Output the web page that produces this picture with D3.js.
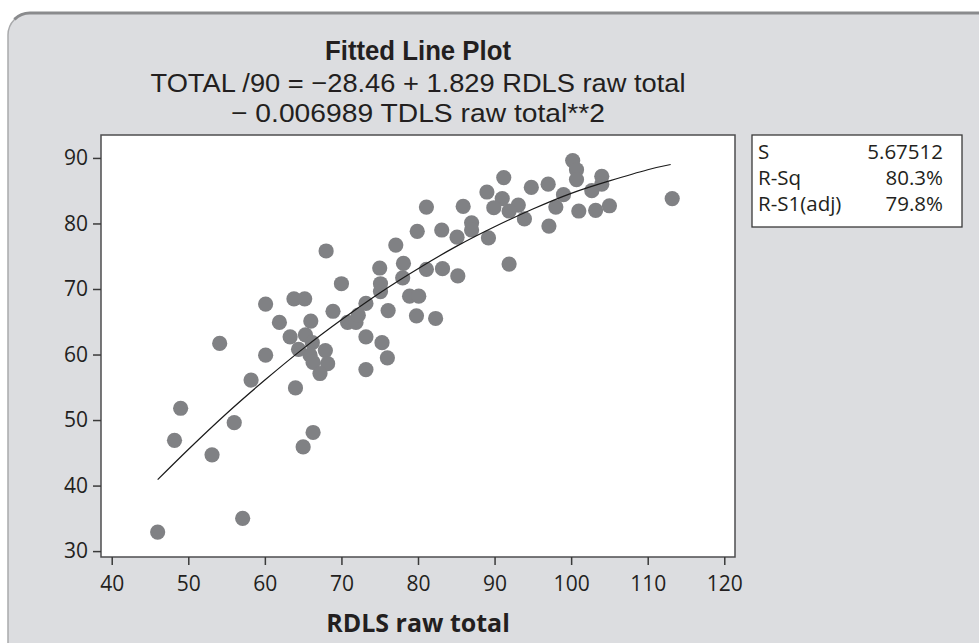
<!DOCTYPE html>
<html>
<head>
<meta charset="utf-8">
<script src="https://cdn.jsdelivr.net/npm/d3@7"></script>
<style>
  body { margin: 0; background: #fff; }
  svg { display: block; }
  text { fill: #231f20; font-family: "Open Sans", "Noto Sans", sans-serif; }
</style>
</head>
<body>
<svg></svg>
<script>
// RDLS raw total (x) and TOTAL /90 (y)
const rdls = [68.0, 77.1, 75.0, 78.1, 70.0, 75.1, 75.1, 78.0, 60.1, 63.8,
  65.2, 68.9, 73.2, 76.1, 78.9, 80.1, 79.8, 61.9, 66.0, 70.8,
  71.9, 72.2, 63.3, 65.3, 66.2, 73.2, 75.3, 54.1, 64.4, 67.9,
  60.1, 65.9, 76.0, 66.3, 68.2, 67.2, 73.2, 58.2, 64.0, 49.0,
  56.0, 66.3, 48.2, 65.0, 53.1, 57.1, 46.0, 100.2, 100.7, 100.7,
  91.2, 104.0, 104.0, 102.7, 97.0, 94.8, 89.0, 99.0, 91.0, 89.9,
  93.1, 91.9, 98.0, 101.0, 103.2, 105.0, 113.2, 81.1, 85.9, 93.9,
  97.1, 87.0, 87.0, 79.9, 83.1, 85.1, 89.2, 81.1, 83.2, 85.2,
  91.9, 82.3];
const total = [75.8, 76.7, 73.2, 73.9, 70.8, 70.8, 69.6, 71.7, 67.7, 68.5,
  68.5, 66.6, 67.8, 66.7, 68.9, 68.9, 65.9, 64.9, 65.1, 64.9,
  64.9, 66.0, 62.7, 63.0, 61.8, 62.7, 61.8, 61.7, 60.8, 60.6,
  59.9, 59.9, 59.5, 58.8, 58.6, 57.1, 57.7, 56.1, 54.9, 51.8,
  49.6, 48.1, 46.9, 45.9, 44.7, 35.0, 32.9, 89.6, 88.2, 86.7,
  87.0, 87.2, 86.0, 85.0, 86.0, 85.5, 84.8, 84.4, 83.8, 82.4,
  82.8, 81.9, 82.5, 81.9, 82.0, 82.7, 83.8, 82.5, 82.6, 80.7,
  79.6, 80.1, 79.0, 78.8, 79.0, 77.9, 77.8, 73.0, 73.1, 72.0,
  73.8, 65.5];

// fitted curve
const fitX = [46, 50, 55, 60, 65, 70, 75, 80, 85, 90, 95, 100, 105, 110, 113];
const fitY = [40.9, 45.5, 51.0, 56.1, 60.9, 65.3, 69.4, 73.1, 76.5, 79.5, 82.2, 84.6, 86.5, 88.2, 89.0];

const xTicks = [40, 50, 60, 70, 80, 90, 100, 110, 120];
const yTicks = [30, 40, 50, 60, 70, 80, 90];

const titleLines = [
  "Fitted Line Plot",
  "TOTAL /90 = \u221228.46 + 1.829 RDLS raw total",
  "\u2212 0.006989 TDLS raw total**2"
];
const xLabel = "RDLS raw total";
const statLabels = ["S", "R-Sq", "R-S1(adj)"];
const statValues = ["5.67512", "80.3%", "79.8%"];

const width = 979;
const height = 643;

const svg = d3.select("svg")
  .attr("width", width)
  .attr("height", height);

// panel
svg.append("rect")
  .attr("x", 8)
  .attr("y", 13)
  .attr("width", 1000)
  .attr("height", 660)
  .attr("rx", 22)
  .attr("fill", "#dcdde0")
  .attr("stroke", "#a9aaac")
  .attr("stroke-width", 1.5);

svg.append("path")
  .attr("d", "M14.4,19.4 A22,22 0 0 1 30,13 L979,13")
  .attr("fill", "none")
  .attr("stroke", "#8a8b8d")
  .attr("stroke-width", 3);

const frame = {left: 101, right: 735, top: 135, bottom: 557};

const x = d3.scaleLinear()
  .domain([38.6, 121.4])
  .range([frame.left, frame.right]);

const y = d3.scaleLinear()
  .domain([29.1, 93.5])
  .range([frame.bottom, frame.top]);

// titles (narrow face, squeezed to the widths seen in the reference)
const titleY = [60, 92, 122];
const titleW = [186, 535, 374];

svg.selectAll(".title")
  .data(titleLines)
  .join("text")
  .attr("class", "title")
  .attr("x", 418)
  .attr("y", (d, i) => titleY[i])
  .attr("text-anchor", "middle")
  .style("font-family", "\"Liberation Sans\", Arial, sans-serif")
  .attr("font-size", (d, i) => i === 0 ? 27 : 26)
  .attr("font-weight", (d, i) => i === 0 ? 700 : 400)
  .attr("textLength", (d, i) => titleW[i])
  .attr("lengthAdjust", "spacingAndGlyphs")
  .text(d => d);

// plot area
svg.append("rect")
  .attr("x", frame.left)
  .attr("y", frame.top)
  .attr("width", frame.right - frame.left)
  .attr("height", frame.bottom - frame.top)
  .attr("fill", "#fff");

const points = rdls.map((v, i) => ({x: v, y: total[i]}));

svg.append("g")
  .selectAll("circle")
  .data(points)
  .join("circle")
  .attr("cx", d => x(d.x))
  .attr("cy", d => y(d.y))
  .attr("r", 7.6)
  .attr("fill", "#808184");

const line = d3.line()
  .x(d => x(d[0]))
  .y(d => y(d[1]))
  .curve(d3.curveNatural);

svg.append("path")
  .datum(fitX.map((v, i) => [v, fitY[i]]))
  .attr("d", line)
  .attr("fill", "none")
  .attr("stroke", "#1a1a1a")
  .attr("stroke-width", 1.2);

svg.append("rect")
  .attr("x", frame.left)
  .attr("y", frame.top)
  .attr("width", frame.right - frame.left)
  .attr("height", frame.bottom - frame.top)
  .attr("fill", "none")
  .attr("stroke", "#4d4d4f")
  .attr("stroke-width", 1.5);

// axes
const xAxis = svg.append("g")
  .attr("transform", `translate(0,${frame.bottom})`)
  .call(d3.axisBottom(x).tickValues(xTicks).tickSize(8).tickSizeOuter(0).tickPadding(11));

const yAxis = svg.append("g")
  .attr("transform", `translate(${frame.left},0)`)
  .call(d3.axisLeft(y).tickValues(yTicks).tickSize(8).tickSizeOuter(0).tickPadding(5));

[xAxis, yAxis].forEach(g => {
  g.select(".domain").remove();
  g.selectAll(".tick line")
    .attr("stroke", "#3a3a3a")
    .attr("stroke-width", 1.5);
  g.selectAll(".tick text")
    .attr("fill", "#231f20")
    .attr("font-family", "\"Open Sans\", sans-serif")
    .attr("font-size", 21);
});

svg.append("text")
  .attr("x", (frame.left + frame.right) / 2)
  .attr("y", 632)
  .attr("text-anchor", "middle")
  .attr("font-size", 25)
  .attr("font-weight", 700)
  .text(xLabel);

// stats box
const box = {x: 752, y: 135, w: 210, h: 92};

svg.append("rect")
  .attr("x", box.x)
  .attr("y", box.y)
  .attr("width", box.w)
  .attr("height", box.h)
  .attr("fill", "#fff")
  .attr("stroke", "#3a3a3a")
  .attr("stroke-width", 1.3);

svg.selectAll(".stat-label")
  .data(statLabels)
  .join("text")
  .attr("class", "stat-label")
  .attr("x", box.x + 6)
  .attr("y", (d, i) => box.y + 24 + i * 26)
  .attr("font-size", 20.5)
  .text(d => d);

svg.selectAll(".stat-value")
  .data(statValues)
  .join("text")
  .attr("class", "stat-value")
  .attr("x", box.x + box.w - 19)
  .attr("y", (d, i) => box.y + 24 + i * 26)
  .attr("text-anchor", "end")
  .attr("font-size", 20.5)
  .text(d => d);
</script>
</body>
</html>
